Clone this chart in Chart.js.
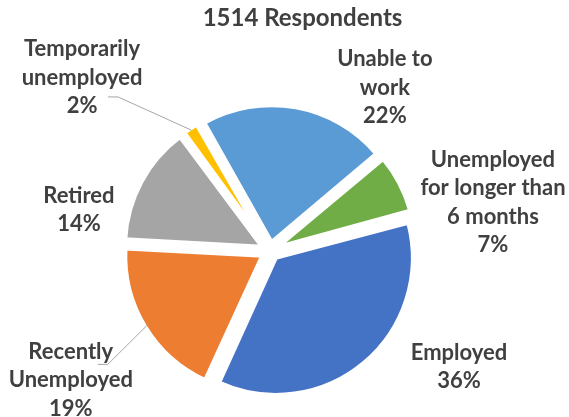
<!DOCTYPE html>
<html>
<head>
<meta charset="utf-8">
<script src="https://cdn.jsdelivr.net/npm/chart.js@4/dist/chart.umd.min.js"></script>
<style>
  html, body { margin: 0; padding: 0; background: #ffffff; }
  #wrap { width: 569px; height: 417px; position: relative; }
</style>
</head>
<body>
<div id="wrap"><canvas id="chart" width="569" height="417"></canvas></div>
<script>
// Survey: employment status of respondents
const chartTitle = '1514 Respondents';
const categories = [
  ['Employed'],
  ['Recently', 'Unemployed'],
  ['Retired'],
  ['Temporarily', 'unemployed'],
  ['Unable to', 'work'],
  ['Unemployed', 'for longer than', '6 months']
];
const shares = [36, 19, 14, 2, 22, 7];
const sliceColors = ['#4472C4', '#ED7D31', '#A5A5A5', '#FFC000', '#5B9BD5', '#70AD47'];

// Where each label block sits: angle clockwise from 12 o'clock (deg) and
// distance from the pie centre as a multiple of the outer radius.
const labelPlacement = [
  { angle: 121.3, dist: 1.615 },
  { angle: 237.2, dist: 1.730 },
  { angle: 282.4, dist: 1.428 },
  { angle: 312.8, dist: 1.870 },
  { angle: 35.0,  dist: 1.462 },
  { angle: 77.5,  dist: 1.667 }
];
// Leader lines (label-relative start and elbow) for labels set away from their slice
const leaders = {
  1: { start: [27, -15], elbow: [37, -15] },
  3: { start: [26, 20],  elbow: [36, 20] }
};

const PIE_RADIUS = 137;
const EXPLODE = 36;          // Chart.js moves an arc by offset / 4 px
const BORDER = 4;
const TEXT_COLOR = '#404040';
const LABEL_FONT = 'bold 22px Lato';
const LABEL_SIZE = 22;
const LINE_H = 28.5;

// Chart.js also grows an offset arc's radius by (offset/4)*(1 - sin(circumference));
// take that back out so every exploded slice keeps the same radius.
const evenExplode = {
  id: 'evenExplode',
  beforeDatasetsDraw(chart) {
    chart.getDatasetMeta(0).data.forEach(arc => {
      if (arc.$baseRadius === undefined) arc.$baseRadius = arc.outerRadius;
      const circ = arc.endAngle - arc.startAngle;
      const grow = (EXPLODE / 4) * (1 - Math.sin(Math.min(Math.PI, circ)));
      arc.outerRadius = arc.$baseRadius - grow;
    });
  }
};

const labelPlugin = {
  id: 'sliceLabels',
  afterDraw(chart) {
    const ctx = chart.ctx;
    const meta = chart.getDatasetMeta(0);
    const total = shares.reduce((a, b) => a + b, 0);

    // title
    ctx.save();
    ctx.fillStyle = TEXT_COLOR;
    ctx.font = 'bold 24px Lato';
    ctx.textAlign = 'center';
    ctx.textBaseline = 'alphabetic';
    ctx.fillText(chartTitle, 302.5, 25.5);
    ctx.restore();

    meta.data.forEach((arc, i) => {
      const R = arc.$baseRadius !== undefined ? arc.$baseRadius : arc.outerRadius;
      const place = labelPlacement[i];
      const a = (place.angle - 90) * Math.PI / 180;
      const cx = arc.x + Math.cos(a) * place.dist * R;
      const cy = arc.y + Math.sin(a) * place.dist * R;

      const pct = Math.round(shares[i] / total * 100) + '%';
      const lines = categories[i].concat([pct]);

      // leader line to the middle of the slice's rim
      const ld = leaders[i];
      if (ld) {
        const mid = (arc.startAngle + arc.endAngle) / 2;
        const reach = R + (arc.options.offset || 0) / 4 - arc.options.borderWidth / 2;
        const ex = arc.x + Math.cos(mid) * reach;
        const ey = arc.y + Math.sin(mid) * reach;
        ctx.save();
        ctx.strokeStyle = '#A6A6A6';
        ctx.lineWidth = 1;
        ctx.beginPath();
        ctx.moveTo(cx + ld.start[0], cy + ld.start[1]);
        ctx.lineTo(cx + ld.elbow[0], cy + ld.elbow[1]);
        ctx.lineTo(ex, ey);
        ctx.stroke();
        ctx.restore();
      }

      ctx.save();
      ctx.fillStyle = TEXT_COLOR;
      ctx.font = LABEL_FONT;
      ctx.textAlign = 'center';
      ctx.textBaseline = 'alphabetic';
      lines.forEach((t, k) => {
        const ly = cy + (k - (lines.length - 1) / 2) * LINE_H + LABEL_SIZE * 0.36;
        ctx.fillText(t, cx, ly);
      });
      ctx.restore();
    });
  }
};

new Chart(document.getElementById('chart'), {
  type: 'pie',
  data: {
    labels: categories.map(c => c.join(' ')),
    datasets: [{
      data: shares,
      backgroundColor: sliceColors,
      borderColor: '#ffffff',
      borderWidth: BORDER,
      offset: EXPLODE,
      hoverOffset: EXPLODE
    }]
  },
  options: {
    responsive: false,
    animation: false,
    events: [],
    rotation: 75,
    radius: PIE_RADIUS,
    layout: { padding: { left: 0, right: 29, top: 85, bottom: 0 } },
    plugins: {
      legend: { display: false },
      tooltip: { enabled: false },
      title: { display: false }
    }
  },
  plugins: [evenExplode, labelPlugin]
});
</script>
</body>
</html>
